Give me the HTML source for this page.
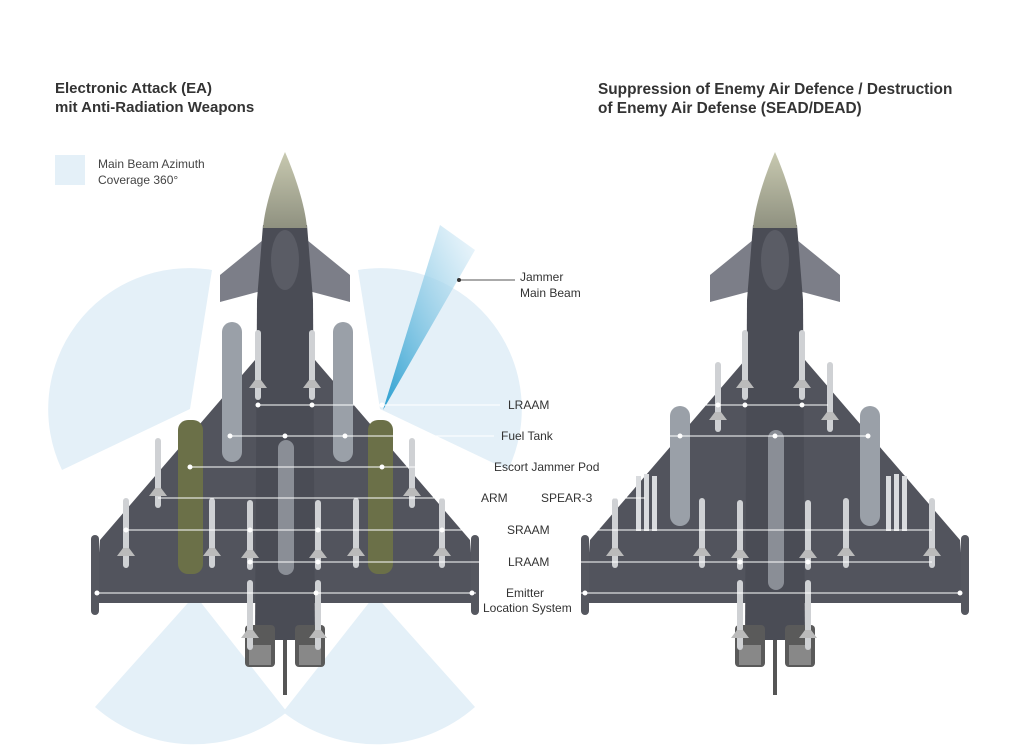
<!DOCTYPE html>
<html><head><meta charset="utf-8"><style>
body{margin:0;background:#fff;}
svg{display:block}
text{font-family:"Liberation Sans",sans-serif;}
</style></head><body>
<svg width="1024" height="753" viewBox="0 0 1024 753">
<defs>
<linearGradient id="beam" x1="0" y1="1" x2="1" y2="0">
<stop offset="0" stop-color="#2a9fd0"/><stop offset="1" stop-color="#e6f2fa" stop-opacity="0.6"/></linearGradient>
<linearGradient id="nose" x1="0" y1="0" x2="0" y2="1"><stop offset="0" stop-color="#c8c9b0"/><stop offset="1" stop-color="#8f9180"/></linearGradient>
<g id="plane">
<!-- wings -->
<polygon points="-30,360 30,360 185,540 190,603 -190,603 -185,540" fill="#52545d"/>
<!-- canards -->
<polygon points="-22,240 -65,275 -65,302 -20,290" fill="#7c7e88"/>
<polygon points="22,240 65,275 65,302 20,290" fill="#7c7e88"/>
<!-- fuselage -->
<path d="M-22,225 L22,225 L28,300 L30,640 L-30,640 L-28,300 Z" fill="#4a4c55"/>
<path d="M0,152 C10,175 20,205 22,228 L-22,228 C-20,205 -10,175 0,152 Z" fill="url(#nose)"/>
<ellipse cx="0" cy="260" rx="14" ry="30" fill="#5a5c65"/>
<!-- engines -->
<rect x="-40" y="625" width="30" height="42" rx="4" fill="#5a5a5a"/>
<rect x="10" y="625" width="30" height="42" rx="4" fill="#5a5a5a"/>
<rect x="-36" y="645" width="22" height="20" fill="#888"/>
<rect x="14" y="645" width="22" height="20" fill="#888"/>
<rect x="-2" y="640" width="4" height="55" fill="#555"/>
<!-- wingtip pods -->
<rect x="-194" y="535" width="8" height="80" rx="4" fill="#55575f"/>
<rect x="186" y="535" width="8" height="80" rx="4" fill="#55575f"/>
</g>
<g id="msl"><rect x="-3" y="0" width="6" height="70" rx="3" fill="#cfd1d4"/><polygon points="-9,58 9,58 3,50 -3,50" fill="#bbb"/></g>
</defs>

<!-- titles -->
<text x="55" y="93" font-size="15" font-weight="bold" fill="#333">Electronic Attack (EA)</text>
<text x="55" y="112" font-size="15" font-weight="bold" fill="#333">mit Anti-Radiation Weapons</text>
<text x="598" y="94" font-size="15.4" font-weight="bold" fill="#333">Suppression of Enemy Air Defence / Destruction</text>
<text x="598" y="113" font-size="15.4" font-weight="bold" fill="#333">of Enemy Air Defense (SEAD/DEAD)</text>

<rect x="55" y="155" width="30" height="30" fill="#e4f0f8"/>
<text x="98" y="168" font-size="12" fill="#444">Main Beam Azimuth</text>
<text x="98" y="184" font-size="12" fill="#444">Coverage 360°</text>

<!-- sectors -->
<g fill="#e4f0f8">
<path d="M190,409 L212,270 A141,141 0 0 0 62,470 Z"/>
<path d="M380,409 L358,270 A141,141 0 0 1 508,470 Z"/>
<path d="M195,595 L95,707 A150,150 0 0 0 287,712 Z"/>
<path d="M375,595 L283,712 A150,150 0 0 0 475,707 Z"/>
</g>
<polygon points="383,410 440,225 475,250" fill="url(#beam)"/>

<use href="#plane" x="285"/>
<use href="#plane" x="775"/>

<!-- left stores -->
<g fill="#9aa0a8">
<rect x="222" y="322" width="20" height="140" rx="10"/>
<rect x="333" y="322" width="20" height="140" rx="10"/>
</g>
<rect x="178" y="420" width="25" height="154" rx="10" fill="#6b7048"/>
<rect x="368" y="420" width="25" height="154" rx="10" fill="#6b7048"/>
<rect x="278" y="440" width="16" height="135" rx="8" fill="#8a8e96"/>
<g>
<use href="#msl" x="258" y="330"/><use href="#msl" x="312" y="330"/>
<use href="#msl" x="158" y="438"/><use href="#msl" x="412" y="438"/>
<use href="#msl" x="126" y="498"/><use href="#msl" x="442" y="498"/>
<use href="#msl" x="212" y="498"/><use href="#msl" x="356" y="498"/>
<use href="#msl" x="250" y="500"/><use href="#msl" x="318" y="500"/>
<use href="#msl" x="250" y="580"/><use href="#msl" x="318" y="580"/>
</g>
<!-- right stores -->
<rect x="670" y="406" width="20" height="120" rx="10" fill="#9aa0a8"/>
<rect x="860" y="406" width="20" height="120" rx="10" fill="#9aa0a8"/>
<rect x="768" y="430" width="16" height="160" rx="8" fill="#8a8e96"/>
<g>
<use href="#msl" x="718" y="362"/><use href="#msl" x="830" y="362"/>
<use href="#msl" x="745" y="330"/><use href="#msl" x="802" y="330"/>
<use href="#msl" x="615" y="498"/><use href="#msl" x="932" y="498"/>
<use href="#msl" x="702" y="498"/><use href="#msl" x="846" y="498"/>
<use href="#msl" x="740" y="500"/><use href="#msl" x="808" y="500"/>
<use href="#msl" x="740" y="580"/><use href="#msl" x="808" y="580"/>
</g>
<g fill="#d9dbde"><rect x="636" y="476" width="5" height="55"/><rect x="644" y="474" width="5" height="57"/><rect x="652" y="476" width="5" height="55"/>
<rect x="886" y="476" width="5" height="55"/><rect x="894" y="474" width="5" height="57"/><rect x="902" y="476" width="5" height="55"/></g>

<!-- label lines -->
<g stroke="#fff" stroke-width="1" fill="#fff">
<line x1="258" y1="405" x2="500" y2="405"/><line x1="550" y1="405" x2="828" y2="405"/>
<line x1="230" y1="436" x2="494" y2="436"/><line x1="556" y1="436" x2="868" y2="436"/>
<line x1="190" y1="467" x2="487" y2="467"/>
<line x1="158" y1="498" x2="474" y2="498"/><line x1="592" y1="498" x2="645" y2="498"/>
<line x1="126" y1="530" x2="500" y2="530"/><line x1="550" y1="530" x2="932" y2="530"/>
<line x1="250" y1="562" x2="500" y2="562"/><line x1="550" y1="562" x2="932" y2="562"/>
<line x1="95" y1="593" x2="476" y2="593"/><line x1="575" y1="593" x2="960" y2="593"/>
<g stroke="none">
<circle cx="258" cy="405" r="2.5"/><circle cx="312" cy="405" r="2.5"/><circle cx="382" cy="405" r="2.5"/>
<circle cx="718" cy="405" r="2.5"/><circle cx="745" cy="405" r="2.5"/><circle cx="802" cy="405" r="2.5"/>
<circle cx="230" cy="436" r="2.5"/><circle cx="285" cy="436" r="2.5"/><circle cx="345" cy="436" r="2.5"/>
<circle cx="680" cy="436" r="2.5"/><circle cx="775" cy="436" r="2.5"/><circle cx="868" cy="436" r="2.5"/>
<circle cx="190" cy="467" r="2.5"/><circle cx="382" cy="467" r="2.5"/>
<circle cx="126" cy="530" r="2.5"/><circle cx="250" cy="530" r="2.5"/><circle cx="318" cy="530" r="2.5"/><circle cx="442" cy="530" r="2.5"/>
<circle cx="250" cy="562" r="2.5"/><circle cx="318" cy="562" r="2.5"/><circle cx="740" cy="562" r="2.5"/><circle cx="808" cy="562" r="2.5"/>
<circle cx="97" cy="593" r="2.5"/><circle cx="316" cy="593" r="2.5"/><circle cx="472" cy="593" r="2.5"/>
<circle cx="585" cy="593" r="2.5"/><circle cx="960" cy="593" r="2.5"/>
</g></g>
<g stroke="#555" stroke-width="1"><line x1="459" y1="280" x2="515" y2="280"/></g>
<circle cx="459" cy="280" r="2" fill="#333"/>

<g font-size="12" fill="#333">
<text x="520" y="281">Jammer</text><text x="520" y="297">Main Beam</text>
<text x="508" y="409">LRAAM</text>
<text x="501" y="440">Fuel Tank</text>
<text x="494" y="471">Escort Jammer Pod</text>
<text x="481" y="502">ARM</text>
<text x="541" y="502">SPEAR-3</text>
<text x="507" y="534">SRAAM</text>
<text x="508" y="566">LRAAM</text>
<text x="506" y="597">Emitter</text>
<text x="483" y="612">Location System</text>
</g>
</svg>
</body></html>
